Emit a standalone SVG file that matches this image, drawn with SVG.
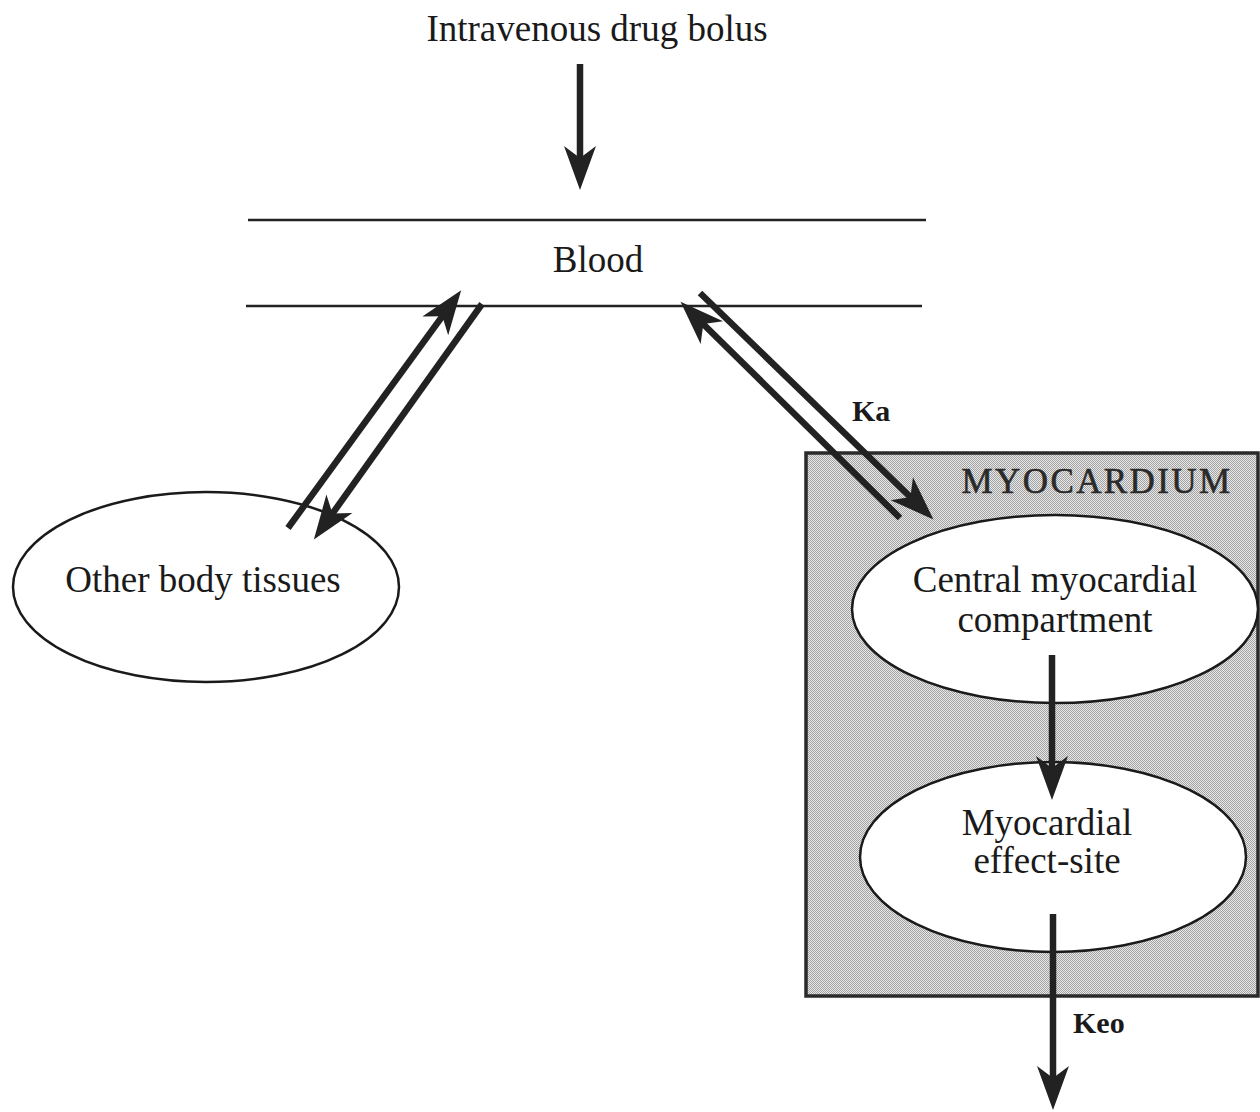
<svg xmlns="http://www.w3.org/2000/svg" width="1260" height="1112" viewBox="0 0 1260 1112">
  <defs>
    <pattern id="stipple" width="2" height="2" patternUnits="userSpaceOnUse">
      <rect width="2" height="2" fill="#e8e8e8"/>
      <rect x="0" y="0" width="1" height="1" fill="#a2a2a2"/>
      <rect x="1" y="1" width="1" height="1" fill="#a2a2a2"/>
    </pattern>
    <marker id="head" viewBox="-2 -18 50 36" refX="-2" refY="0" markerWidth="50" markerHeight="36" markerUnits="userSpaceOnUse" orient="auto" overflow="visible">
      <path d="M28,0 L-16,-16 L-4,0 L-16,16 Z" fill="#222"/>
    </marker>
    <style>
      .lbl { font-family: "Liberation Serif", "Times New Roman", serif; font-size: 37px; fill: #1a1a1a; text-anchor: middle; }
      .bold { font-family: "Liberation Serif", "Times New Roman", serif; font-size: 30px; font-weight: bold; fill: #1a1a1a; }
      .node { fill: #ffffff; stroke: #1a1a1a; stroke-width: 2.5; }
      .arrow { stroke: #222; stroke-width: 6.5; fill: none; marker-end: url(#head); }
      .thin { stroke: #222; stroke-width: 2.5; }
    </style>
  </defs>

  <g id="bolus">
    <text class="lbl" x="597" y="41">Intravenous drug bolus</text>
  </g>

  <g id="blood">
    <line class="thin" x1="248" y1="220" x2="926" y2="220"/>
    <line class="thin" x1="246" y1="306" x2="922" y2="306"/>
    <text class="lbl" x="598" y="272">Blood</text>
  </g>

  <g id="other-tissues">
    <ellipse class="node" cx="206" cy="587" rx="193" ry="95"/>
    <text class="lbl" x="203" y="592">Other body tissues</text>
  </g>

  <g id="myocardium">
    <rect x="806" y="453" width="452" height="543" fill="url(#stipple)" stroke="#2a2a2a" stroke-width="3.5"/>
    <text x="1097" y="493" text-anchor="middle" font-family="Liberation Serif, Times New Roman, serif" font-size="35" letter-spacing="2.4" fill="#2a2a2a" stroke="#2a2a2a" stroke-width="0.6">MYOCARDIUM</text>
  </g>

  <g id="central">
    <ellipse class="node" cx="1055" cy="609" rx="203" ry="94"/>
    <text class="lbl" x="1055" y="592">Central myocardial</text>
    <text class="lbl" x="1055" y="632">compartment</text>
  </g>

  <g id="effect-site">
    <ellipse class="node" cx="1053" cy="857" rx="193" ry="95"/>
    <text class="lbl" x="1047" y="835">Myocardial</text>
    <text class="lbl" x="1047" y="873">effect-site</text>
  </g>

  <g id="connectors">
    <line class="arrow" x1="580" y1="64" x2="580" y2="160"/>
    <line class="arrow" x1="288" y1="528" x2="443.5" y2="314.6"/>
    <line class="arrow" x1="482" y1="304" x2="331.3" y2="515.2"/>
    <line class="arrow" x1="900" y1="518" x2="701.9" y2="322.7"/>
    <line class="arrow" x1="700" y1="293" x2="911.9" y2="498.5"/>
    <line class="arrow" x1="1052" y1="655" x2="1052" y2="770"/>
    <line class="arrow" x1="1053" y1="914" x2="1053" y2="1080"/>
    <text class="bold" x="852" y="421">Ka</text>
    <text class="bold" x="1073" y="1033">Keo</text>
  </g>
</svg>
